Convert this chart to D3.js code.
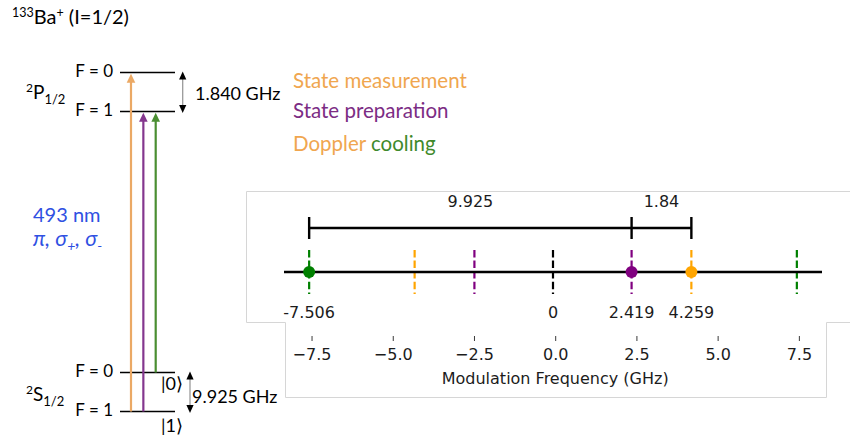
<!DOCTYPE html>
<html>
<head>
<meta charset="utf-8">
<script src="https://cdn.jsdelivr.net/npm/d3@7"></script>
<style>
  html, body { margin: 0; padding: 0; background: #fff; }
  svg { display: block; }
</style>
</head>
<body>
<svg id="fig" width="850" height="437"></svg>
<script>
// ---- Sideband spectrum (GHz) ----
const sidebandFreqs = [-7.506, -4.259, -2.419, 0, 2.419, 4.259, 7.506];
const sidebandBeams = ["cooling", "measure", "prep", "carrier", "prep", "measure", "cooling"];
const activeFreqs = [-7.506, 2.419, 4.259];
const activeBeams = ["cooling", "prep", "measure"];
const valueLabelFreqs = [-7.506, 0, 2.419, 4.259];
const valueLabels = ["-7.506", "0", "2.419", "4.259"];
const spanStarts = [-7.506, 2.419];
const spanEnds = [2.419, 4.259];
const axisTicks = [-7.5, -5, -2.5, 0, 2.5, 5, 7.5];
const axisTitle = "Modulation Frequency (GHz)";
const freqExtent = [-8.28, 8.28];

// ---- 133Ba+ hyperfine level scheme ----
const levelNames = ["P0", "P1", "S0", "S1"];
const levelLabels = ["F = 0", "F = 1", "F = 0", "F = 1"];
const transitionFrom = ["S1", "S1", "S0"];
const transitionTo = ["P0", "P1", "P1"];
const transitionBeams = ["measure", "prep", "cooling"];
const splittingLabels = ["1.840 GHz", "9.925 GHz"];
const legendTexts = ["State measurement", "State preparation"];

// colours
const plotColor = { cooling: "#008000", measure: "#FFA500", prep: "#800080", carrier: "#000000" };
const beamColor = { measure: "#EBA965", prep: "#84378E", cooling: "#4A8E32" };
const textColor = { measure: "#F0A64F", prep: "#7C2C84", cooling: "#3F8A2C" };
const blue = "#2F50E2";

const svg = d3.select("#fig");
const mpl = "'DejaVu Sans', sans-serif";
const cal = "Lato, 'Open Sans', sans-serif";

// ================= spectrum panel =================
const xTop = d3.scaleLinear().domain(freqExtent).range([284, 822]);
const xBot = d3.scaleLinear().domain(freqExtent).range([286.2, 824.2]);

// panel outline (upper plot area plus the axis strip below it)
svg.append("path")
  .attr("d", "M246.5,191.5 H851 M246.5,191.5 V322.5 H285.5 V397.5 H826.5 V322.5 H851")
  .attr("fill", "none").attr("stroke", "#d6d6d6").attr("stroke-width", 1);

const yLine = 272, dashTop = 250, dashBot = 294;

// dashed sideband markers
svg.append("g").selectAll("line").data(sidebandFreqs).join("line")
  .attr("x1", d => xTop(d)).attr("x2", d => xTop(d))
  .attr("y1", dashTop).attr("y2", dashBot)
  .attr("stroke", (d, i) => plotColor[sidebandBeams[i]])
  .attr("stroke-width", 2.2)
  .attr("stroke-dasharray", "7.4,3.2");

// frequency baseline
svg.append("line")
  .attr("x1", xTop(freqExtent[0])).attr("x2", xTop(freqExtent[1]))
  .attr("y1", yLine).attr("y2", yLine)
  .attr("stroke", "#000").attr("stroke-width", 2.6);

// occupied sidebands
svg.append("g").selectAll("circle").data(activeFreqs).join("circle")
  .attr("cx", d => xTop(d)).attr("cy", yLine).attr("r", 6)
  .attr("fill", (d, i) => plotColor[activeBeams[i]]);

// value labels under the baseline
svg.append("g").selectAll("text").data(valueLabelFreqs).join("text")
  .attr("x", d => xTop(d)).attr("y", 317.5)
  .attr("text-anchor", "middle")
  .attr("font-family", mpl).attr("font-size", 16).attr("fill", "#1c1c1c")
  .text((d, i) => valueLabels[i]);

// spacing brackets
const yBr = 228;
const fmtSpan = d3.format(".3~f");
const spans = spanStarts.map((s, i) => ({ s, e: spanEnds[i] }));
const gBr = svg.append("g");
gBr.selectAll("line.h").data(spans).join("line").attr("class", "h")
  .attr("x1", d => xTop(d.s)).attr("x2", d => xTop(d.e))
  .attr("y1", yBr).attr("y2", yBr)
  .attr("stroke", "#000").attr("stroke-width", 2.4);
const brEnds = Array.from(new Set(spanStarts.concat(spanEnds)));
gBr.selectAll("line.v").data(brEnds).join("line").attr("class", "v")
  .attr("x1", d => xTop(d)).attr("x2", d => xTop(d))
  .attr("y1", yBr - 11).attr("y2", yBr + 11)
  .attr("stroke", "#000").attr("stroke-width", 2.4);
gBr.selectAll("text").data(spans).join("text")
  .attr("x", d => xTop((d.s + d.e) / 2)).attr("y", 207)
  .attr("text-anchor", "middle")
  .attr("font-family", mpl).attr("font-size", 16).attr("fill", "#1c1c1c")
  .text(d => fmtSpan(d.e - d.s));

// bottom axis
const axis = d3.axisBottom(xBot).tickValues(axisTicks)
  .tickFormat(d3.format(".1f")).tickSize(5).tickPadding(8);
const gAx = svg.append("g").attr("transform", "translate(0,336)").call(axis);
gAx.select(".domain").remove();
gAx.selectAll(".tick line").attr("stroke", "#3a3a3a").attr("stroke-width", 1);
gAx.selectAll(".tick text").attr("font-family", mpl).attr("font-size", 16).attr("fill", "#1c1c1c");
svg.append("text")
  .attr("x", xBot(0)).attr("y", 383.5).attr("text-anchor", "middle")
  .attr("font-family", mpl).attr("font-size", 16).attr("fill", "#1c1c1c")
  .text(axisTitle);

// ================= level scheme =================
const yLevel = d3.scaleOrdinal(levelNames, [72.5, 111.5, 372.5, 411.5]);
const xTr = d3.scalePoint(transitionBeams, [131, 155.7]);
const lvlX0 = 120, lvlX1 = 175;

// title
const title = svg.append("text").attr("x", 12).attr("y", 24)
  .attr("font-family", cal).attr("font-size", 20).attr("fill", "#000");
title.append("tspan").attr("font-size", 12.5).attr("dy", -7).text("133");
title.append("tspan").attr("dy", 7).text("Ba");
title.append("tspan").attr("font-size", 12.5).attr("dy", -7).text("+");
title.append("tspan").attr("dy", 7).text(" (I=1/2)");

// level lines
svg.append("g").selectAll("line").data(levelNames).join("line")
  .attr("x1", lvlX0).attr("x2", lvlX1)
  .attr("y1", d => yLevel(d)).attr("y2", d => yLevel(d))
  .attr("stroke", "#000").attr("stroke-width", 1.4);

svg.append("g").selectAll("text").data(levelNames).join("text")
  .attr("x", 113).attr("y", d => yLevel(d) + 4.5)
  .attr("text-anchor", "end")
  .attr("font-family", cal).attr("font-size", 17).attr("fill", "#000")
  .text((d, i) => levelLabels[i]);

// term symbols
function term(letter, y) {
  const t = svg.append("text").attr("x", 26).attr("y", y)
    .attr("font-family", cal).attr("font-size", 19).attr("fill", "#000");
  t.append("tspan").attr("font-size", 12).attr("dy", -7).text("2");
  t.append("tspan").attr("dy", 7).text(letter);
  t.append("tspan").attr("font-size", 13).attr("dy", 5).text("1/2");
}
term("P", 99);
term("S", 401);

// laser transitions
const trans = transitionBeams.map((b, i) => ({ b, y0: yLevel(transitionFrom[i]), y1: yLevel(transitionTo[i]) }));
const headL = 9, headW = 4.3;
svg.append("g").selectAll("line").data(trans).join("line")
  .attr("x1", d => xTr(d.b)).attr("x2", d => xTr(d.b))
  .attr("y1", d => d.y0).attr("y2", d => d.y1 + headL)
  .attr("stroke", d => beamColor[d.b]).attr("stroke-width", 2.2);
svg.append("g").selectAll("path").data(trans).join("path")
  .attr("d", d => {
    const x = xTr(d.b), t = d.y1 + 1.2;
    return `M${x},${t} L${x - headW},${t + headL} L${x + headW},${t + headL} Z`;
  })
  .attr("fill", d => beamColor[d.b]);

// hyperfine splitting arrows
function doubleArrow(x, ya, yb) {
  const g = svg.append("g");
  g.append("line").attr("x1", x).attr("x2", x).attr("y1", ya + 5).attr("y2", yb - 5)
    .attr("stroke", "#9a9a9a").attr("stroke-width", 1.3);
  g.append("path").attr("d", `M${x},${ya - 1} L${x - 3.6},${ya + 7} L${x + 3.6},${ya + 7} Z`).attr("fill", "#000");
  g.append("path").attr("d", `M${x},${yb + 1.5} L${x - 3.6},${yb - 6.5} L${x + 3.6},${yb - 6.5} Z`).attr("fill", "#000");
}
doubleArrow(182.7, yLevel("P0"), yLevel("P1"));
doubleArrow(190, yLevel("S0"), yLevel("S1"));

svg.append("text").attr("x", 195).attr("y", 100)
  .attr("font-family", cal).attr("font-size", 18).attr("fill", "#000").text(splittingLabels[0]);
svg.append("text").attr("x", 192).attr("y", 403)
  .attr("font-family", cal).attr("font-size", 18).attr("fill", "#000").text(splittingLabels[1]);

// qubit state labels
svg.append("text").attr("x", 161).attr("y", 389.5)
  .attr("font-family", cal).attr("font-size", 18).attr("fill", "#000").text("|0\u27E9");
svg.append("text").attr("x", 161).attr("y", 432)
  .attr("font-family", cal).attr("font-size", 18).attr("fill", "#000").text("|1\u27E9");

// wavelength / polarisation
svg.append("text").attr("x", 33).attr("y", 221.5)
  .attr("font-family", cal).attr("font-size", 20).attr("fill", blue).text("493 nm");
const pol = svg.append("text").attr("x", 33).attr("y", 246)
  .attr("font-family", cal).attr("font-size", 21.5).attr("font-style", "italic").attr("fill", blue);
pol.append("tspan").text("\u03C0, \u03C3");
pol.append("tspan").attr("font-size", 14).attr("dy", 5).text("+");
pol.append("tspan").attr("dy", -5).text(", \u03C3");
pol.append("tspan").attr("font-size", 14).attr("dy", 5).text("-");

// legend
svg.append("text").attr("x", 293).attr("y", 88)
  .attr("font-family", cal).attr("font-size", 20.5).attr("fill", textColor.measure).text(legendTexts[0]);
svg.append("text").attr("x", 293).attr("y", 118)
  .attr("font-family", cal).attr("font-size", 20.5).attr("fill", textColor.prep).text(legendTexts[1]);
const dc = svg.append("text").attr("x", 293).attr("y", 151)
  .attr("font-family", cal).attr("font-size", 20.5);
dc.append("tspan").attr("fill", textColor.measure).text("Doppler ");
dc.append("tspan").attr("fill", textColor.cooling).text("cooling");
</script>
</body>
</html>
